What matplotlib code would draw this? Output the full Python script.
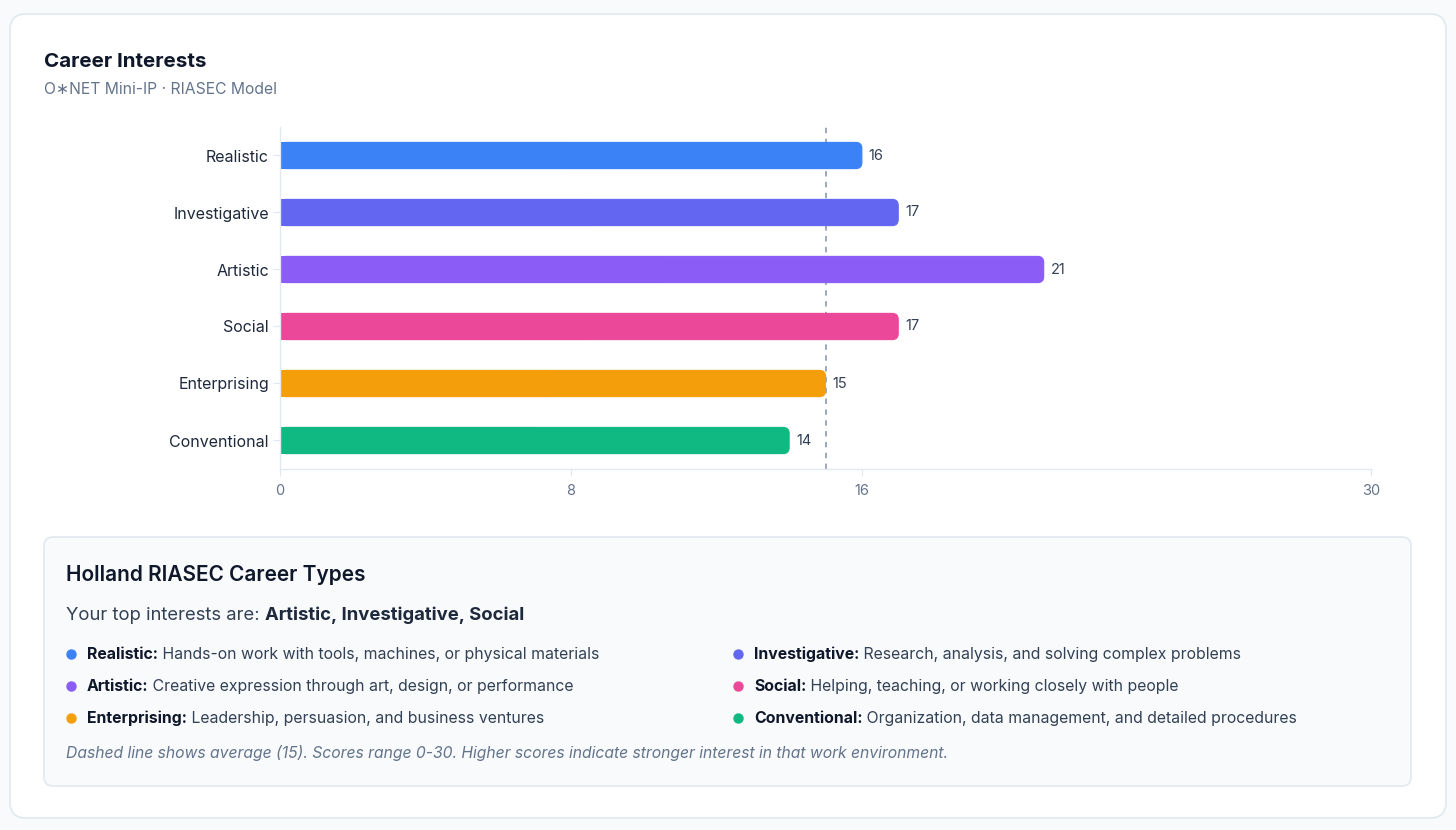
import matplotlib
matplotlib.use('Agg')
import matplotlib.pyplot as plt
from matplotlib.patches import FancyBboxPatch, Rectangle

plt.rcParams['font.family'] = ['Inter', 'DejaVu Sans']

# datos del gráfico
categories = ['Realistic', 'Investigative', 'Artistic', 'Social', 'Enterprising', 'Conventional']
scores = [16, 17, 21, 17, 15, 14]
colors = ['#3b82f6', '#6366f1', '#8b5cf6', '#ec4899', '#f59e0b', '#10b981']
average = 15
x_ticks = [0, 8, 16, 30]
descriptions = [
    'Hands-on work with tools, machines, or physical materials',
    'Research, analysis, and solving complex problems',
    'Creative expression through art, design, or performance',
    'Helping, teaching, or working closely with people',
    'Leadership, persuasion, and business ventures',
    'Organization, data management, and detailed procedures',
]
top_interests = ['Artistic', 'Investigative', 'Social']

W, H = 1456, 830
fig = plt.figure(figsize=(W / 100, H / 100), dpi=100)
fig.patch.set_facecolor('#f8fafc')

# fondo en coordenadas de pixel
bg = fig.add_axes([0, 0, 1, 1], zorder=0)
bg.set_xlim(0, W)
bg.set_ylim(H, 0)
bg.axis('off')

card = FancyBboxPatch((10, 14), 1436, 804, boxstyle='round,pad=0,rounding_size=16',
                      facecolor='white', edgecolor='#e2e8f0', linewidth=1.2)
bg.add_patch(card)
box = FancyBboxPatch((44, 537), 1367, 249, boxstyle='round,pad=0,rounding_size=9',
                     facecolor='#f8fafc', edgecolor='#e2e8f0', linewidth=1.2)
bg.add_patch(box)

bg.text(44, 62, 'Career Interests', fontsize=14.8, fontweight='bold', color='#0f172a', va='center')
bg.text(44, 89, 'O\u2217NET Mini-IP \u00b7 RIASEC Model', fontsize=11.3, color='#64748b', va='center')

bg.text(66, 575, 'Holland RIASEC Career Types', fontsize=15, fontweight='semibold', color='#0f172a', va='center')
t = bg.text(66, 615, 'Your top interests are: ', fontsize=13.3, color='#334155', va='center')
bg.annotate(', '.join(top_interests), xy=(1, 0.5), xycoords=t, fontsize=13.3,
            fontweight='bold', color='#1e293b', va='center')

col_x = [71, 738]
row_y = [654, 686, 718]
for i, (cat, desc, col) in enumerate(zip(categories, descriptions, colors)):
    cx = col_x[i % 2]
    cy = row_y[i // 2]
    bg.scatter([cx], [cy], s=42, color=col, zorder=3)
    lbl = bg.text(cx + 16, cy, cat + ':', fontsize=11.4, fontweight='bold', color='#0f172a', va='center')
    bg.annotate(' ' + desc, xy=(1, 0.5), xycoords=lbl, fontsize=11.4, color='#334155', va='center')

bg.text(66, 753, 'Dashed line shows average (15). Scores range 0-30. Higher scores indicate '
        'stronger interest in that work environment.', fontsize=11.3, style='italic',
        color='#64748b', va='center')

# gráfico de barras
ax = fig.add_axes([280 / W, 1 - 469 / H, 1091 / W, 342 / H], zorder=1)
ax.set_facecolor('none')
ax.set_xlim(0, 30)
ax.set_ylim(len(categories) - 0.5, -0.5)

bar_h = 0.46
ax_w_px = 1091
ax_h_px = 342
x_per_px = 30 / ax_w_px
y_per_px = len(categories) / ax_h_px
radius = 6 * x_per_px
for i, (v, col) in enumerate(zip(scores, colors)):
    p = FancyBboxPatch((0, i - bar_h / 2), v, bar_h,
                       boxstyle=f'round,pad=0,rounding_size={radius}',
                       mutation_aspect=y_per_px / x_per_px,
                       facecolor=col, edgecolor=col, linewidth=0.8, zorder=2)
    ax.add_patch(p)
    ax.add_patch(Rectangle((0, i - bar_h / 2), v / 2, bar_h, facecolor=col,
                           edgecolor='none', zorder=2))
    ax.annotate(str(v), xy=(v, i), xytext=(5, 0), textcoords='offset points',
                va='center', ha='left', fontsize=10.5, color='#334155')

ax.axvline(average, color='#94a3b8', linestyle=(0, (3, 3)), linewidth=1.3, zorder=1)

ax.set_yticks(range(len(categories)))
ax.set_yticklabels(categories, fontsize=11.5, color='#1e293b')
ax.set_xticks(x_ticks)
ax.set_xticklabels([str(x) for x in x_ticks], fontsize=10.5, color='#64748b')
ax.tick_params(axis='y', length=5, color='#e2e8f0', pad=3)
ax.tick_params(axis='x', length=5, color='#e2e8f0', pad=6)
for s in ['top', 'right']:
    ax.spines[s].set_visible(False)
for s in ['left', 'bottom']:
    ax.spines[s].set_color('#e2e8f0')
    ax.spines[s].set_linewidth(1)

fig.savefig('out.png', dpi=100, facecolor=fig.get_facecolor())
